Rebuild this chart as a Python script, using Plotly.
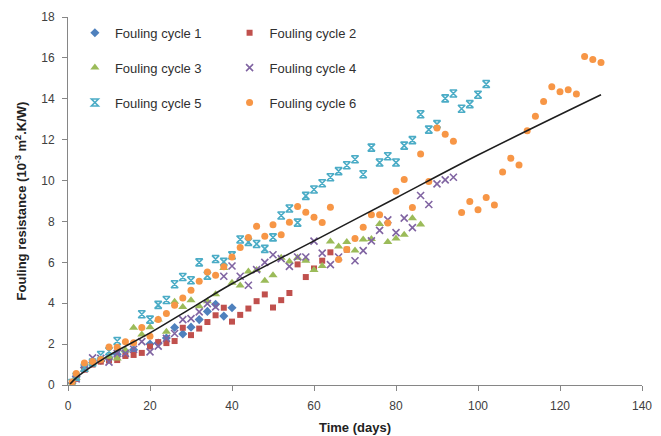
import plotly.graph_objects as go

# ---------------- data ----------------
c1_days = [1, 2, 4, 6, 8, 10, 12, 14, 16, 20, 22, 24, 26, 28, 30, 32, 34, 36, 38, 40]
c1_vals = [0.1, 0.4, 0.85, 1.1, 1.2, 1.35, 1.5, 1.65, 1.72, 2.0, 2.05, 2.3, 2.81, 2.5, 2.83, 3.2, 3.6, 3.95, 3.37, 3.78]

c2_days = [2, 4, 6, 8, 10, 12, 14, 16, 18, 20, 22, 24, 26, 28, 30, 32, 34, 36, 38, 40,
           42, 44, 46, 48, 50, 52, 54, 56, 58, 60, 62, 64, 68]
c2_vals = [0.3, 0.75, 1.0, 1.14, 1.2, 1.22, 1.42, 1.47, 1.57, 1.88, 2.1, 2.05, 2.15, 2.8, 2.44, 2.76, 3.08, 3.41, 3.78, 3.1,
           3.43, 3.74, 4.1, 4.43, 3.79, 4.15, 4.5, 5.9, 5.28, 5.7, 6.08, 6.49, 6.62]

c3_days = [1, 2, 4, 6, 8, 10, 12, 14, 16, 18, 20, 22, 24, 26, 28, 30, 32, 34, 36, 38, 40,
           42, 44, 46, 48, 50, 52, 54, 56, 58, 60, 62, 64, 66, 68, 70, 72, 74, 76, 78, 80, 82, 84, 86]
c3_vals = [0.05, 0.35, 0.75, 1.1, 1.22, 1.38, 1.3, 1.7, 2.8, 2.47, 2.83, 3.2, 2.6, 4.07, 3.82, 4.15, 3.85, 4.1, 4.44, 5.72, 5.0,
           4.87, 5.55, 5.62, 5.1, 5.37, 6.22, 6.04, 6.22, 6.08, 5.63, 5.82, 7.02, 6.78, 6.99, 6.58, 7.12, 7.14, 7.87, 6.99, 7.16, 7.35, 8.16, 7.85]

c4_days = [2, 4, 6, 8, 10, 12, 14, 16, 18, 20, 22, 24, 26, 28, 30, 32, 34, 36, 38, 40,
           42, 44, 46, 48, 50, 52, 54, 56, 58, 60, 62, 64, 66, 70, 72, 74, 76, 78, 80, 82, 84, 86, 88, 90, 92, 94]
c4_vals = [0.3, 0.8, 1.33, 1.3, 1.12, 1.55, 1.55, 1.75, 2.12, 1.62, 1.9, 2.28, 2.52, 3.2, 3.25, 3.58, 3.98, 3.82, 5.32, 5.82,
           5.32, 4.88, 5.64, 6.0, 6.37, 6.18, 5.8, 6.26, 6.26, 7.04, 6.45, 5.89, 6.26, 6.08, 6.57, 7.05, 7.56, 8.08, 7.45, 8.16, 7.7,
           9.27, 8.83, 9.84, 10.03, 10.16]

c5_days = [1, 2, 4, 6, 8, 10, 12, 18, 20, 22, 24, 26, 28, 30, 32, 34, 36, 38, 40,
           42, 44, 46, 48, 50, 52, 54, 56, 58, 60, 62, 64, 66, 68, 70, 72, 74, 76, 78, 80,
           82, 84, 86, 88, 90, 92, 94, 96, 98, 100, 102]
c5_vals = [0.1, 0.4, 0.85, 1.1, 1.47, 1.65, 2.15, 3.46, 3.2, 3.92, 4.16, 4.93, 5.28, 5.12, 6.0, 5.35, 6.16, 6.02, 6.34,
           7.12, 7.0, 6.9, 6.66, 7.22, 8.29, 8.63, 7.94, 9.25, 9.56, 9.87, 10.16, 10.46, 10.75, 11.04, 10.31, 11.61, 10.88, 11.19, 10.88,
           11.71, 11.98, 13.24, 12.49, 12.76, 14.02, 14.26, 13.51, 13.74, 14.2, 14.72]

c6_days = [1, 2, 4, 6, 8, 10, 12, 14, 16, 18, 20, 22, 24, 26, 28, 30, 32, 34, 36, 38, 40,
           42, 44, 46, 48, 50, 52, 54, 56, 58, 60, 62, 64, 66, 68, 70, 72, 74, 76, 78, 80,
           82, 84, 86, 88, 90, 92, 94, 96, 98, 100, 102, 104, 106, 108, 110, 112, 114, 116, 118, 120,
           122, 124, 126, 128, 130]
c6_vals = [0.15, 0.56, 1.07, 1.15, 1.25, 1.86, 1.85, 2.12, 2.07, 2.81, 2.38, 3.2, 3.5, 3.9, 4.26, 4.63, 5.07, 5.53, 5.37, 5.78, 6.26,
           6.73, 7.22, 7.76, 7.27, 7.84, 7.35, 7.96, 8.73, 8.45, 8.2, 7.95, 8.7, 6.14, 6.63, 7.17, 7.72, 8.33, 8.33, 7.92, 9.48,
           10.05, 8.68, 11.3, 9.95, 12.57, 12.26, 11.92, 8.44, 8.98, 8.57, 9.17, 8.8, 10.42, 11.09, 10.76, 12.44, 13.14, 13.87, 14.59, 14.34,
           14.44, 14.23, 16.07, 15.92, 15.77]

trend_days = [0.5, 2, 5, 10, 20, 30, 40, 60, 80, 100, 130]
trend_vals = [0.05, 0.35, 0.8, 1.45, 2.55, 3.75, 4.95, 7.05, 9.15, 11.25, 14.2]

series_names = ["Fouling cycle 1", "Fouling cycle 2", "Fouling cycle 3",
                "Fouling cycle 4", "Fouling cycle 5", "Fouling cycle 6"]

x_ticks = [0, 20, 40, 60, 80, 100, 120, 140]
y_ticks = [0, 2, 4, 6, 8, 10, 12, 14, 16, 18]

# ---------------- styling ----------------
styles = [
    dict(symbol="diamond", size=7, color="#4F81BD"),
    dict(symbol="square", size=6, color="#C0504D"),
    dict(symbol="triangle-up", size=8, color="#9BBB59"),
    dict(symbol="x-thin-open", size=7, color="#8064A2"),
    dict(symbol="hourglass-open", size=7, color="#4BACC6"),
    dict(symbol="circle", size=7, color="#F79646"),
]
legend_of = ["legend", "legend2", "legend", "legend2", "legend", "legend2"]
all_days = [c1_days, c2_days, c3_days, c4_days, c5_days, c6_days]
all_vals = [c1_vals, c2_vals, c3_vals, c4_vals, c5_vals, c6_vals]

fig = go.Figure()
for i in range(6):
    st = styles[i]
    marker = dict(symbol=st["symbol"], size=st["size"], color=st["color"])
    if "open" in st["symbol"]:
        marker["line"] = dict(color=st["color"], width=1.6)
    fig.add_trace(go.Scatter(
        x=all_days[i], y=all_vals[i], mode="markers", name=series_names[i],
        marker=marker, legend=legend_of[i], legendgroup=series_names[i],
    ))

fig.add_trace(go.Scatter(
    x=trend_days, y=trend_vals, mode="lines", line=dict(color="#1E1E1E", width=1.6, shape="spline"),
    showlegend=False, hoverinfo="skip",
))

axis_common = dict(
    showgrid=False, zeroline=False, showline=True, linecolor="#868686", linewidth=1,
    ticks="outside", ticklen=5, tickcolor="#868686", automargin=False,
    ticklabelstandoff=5,
    tickfont=dict(family="Liberation Sans, Arial, sans-serif", size=12, color="#404040"),
    title_font=dict(family="Liberation Sans, Arial, sans-serif", size=13, color="#222222"),
)

legend_common = dict(
    font=dict(family="Liberation Sans, Arial, sans-serif", size=13, color="#303030"),
    bgcolor="rgba(0,0,0,0)", borderwidth=0, orientation="v",
    xanchor="left", yanchor="top", tracegroupgap=15, traceorder="grouped",
)

# the page body adds an 8 px offset, so the figure is 8 px smaller than the window
fig.update_layout(
    width=653, height=428,
    margin=dict(l=60, r=19, t=9, b=51),
    paper_bgcolor="white", plot_bgcolor="white",
    showlegend=True,
    legend=dict(x=0.012, y=0.998, **legend_common),
    legend2=dict(x=0.2815, y=0.998, **legend_common),
    xaxis=dict(range=[0, 140], tickvals=x_ticks, title=dict(text="<b>Time (days)</b>", standoff=10),
               **axis_common),
    yaxis=dict(range=[0, 18], tickvals=y_ticks,
               title=dict(text="<b>Fouling resistance (10<sup>-3</sup> m<sup>2</sup>.K/W)</b>", standoff=11),
               **axis_common),
)

fig.write_html("out.html")
